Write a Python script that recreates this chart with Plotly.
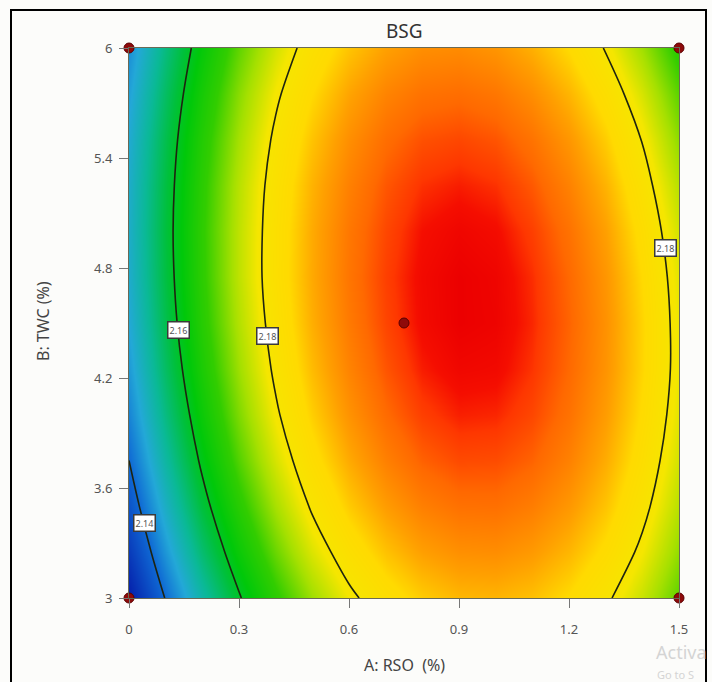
import plotly.graph_objects as go

# A: RSO (%) grid and B: TWC (%) grid
rso = [0.0, 0.1, 0.2, 0.3, 0.4, 0.5, 0.6, 0.7, 0.8, 0.9, 1.0, 1.1, 1.2, 1.3, 1.4, 1.5]
twc = [3.0, 3.25, 3.5, 3.75, 4.0, 4.25, 4.5, 4.75, 5.0, 5.25, 5.5, 5.75, 6.0]

# BSG response values (rows follow twc, columns follow rso)
bsg = [
    [2.1289, 2.1403, 2.1505, 2.1595, 2.1672, 2.1736, 2.1789, 2.1829, 2.1856, 2.1872, 2.1874, 2.1865, 2.1843, 2.1808, 2.1762, 2.1702],
    [2.1331, 2.1445, 2.1546, 2.1634, 2.1710, 2.1774, 2.1825, 2.1864, 2.1891, 2.1905, 2.1907, 2.1896, 2.1873, 2.1838, 2.1790, 2.1730],
    [2.1368, 2.1481, 2.1581, 2.1668, 2.1743, 2.1806, 2.1857, 2.1894, 2.1920, 2.1933, 2.1934, 2.1922, 2.1898, 2.1862, 2.1813, 2.1752],
    [2.1400, 2.1511, 2.1610, 2.1697, 2.1771, 2.1833, 2.1882, 2.1919, 2.1944, 2.1956, 2.1955, 2.1943, 2.1918, 2.1880, 2.1830, 2.1768],
    [2.1426, 2.1536, 2.1634, 2.1720, 2.1793, 2.1854, 2.1902, 2.1938, 2.1962, 2.1973, 2.1971, 2.1958, 2.1932, 2.1893, 2.1842, 2.1779],
    [2.1446, 2.1556, 2.1653, 2.1737, 2.1809, 2.1869, 2.1916, 2.1951, 2.1974, 2.1984, 2.1982, 2.1967, 2.1940, 2.1901, 2.1849, 2.1785],
    [2.1461, 2.1570, 2.1666, 2.1749, 2.1820, 2.1879, 2.1925, 2.1959, 2.1981, 2.1990, 2.1987, 2.1971, 2.1943, 2.1903, 2.1850, 2.1784],
    [2.1471, 2.1578, 2.1673, 2.1756, 2.1826, 2.1883, 2.1929, 2.1962, 2.1982, 2.1990, 2.1986, 2.1969, 2.1940, 2.1899, 2.1845, 2.1779],
    [2.1475, 2.1581, 2.1675, 2.1756, 2.1825, 2.1882, 2.1927, 2.1958, 2.1978, 2.1985, 2.1980, 2.1962, 2.1932, 2.1890, 2.1835, 2.1768],
    [2.1473, 2.1578, 2.1671, 2.1752, 2.1820, 2.1876, 2.1919, 2.1950, 2.1968, 2.1974, 2.1968, 2.1949, 2.1918, 2.1875, 2.1819, 2.1751],
    [2.1466, 2.1570, 2.1662, 2.1741, 2.1809, 2.1863, 2.1906, 2.1936, 2.1953, 2.1958, 2.1951, 2.1931, 2.1899, 2.1855, 2.1798, 2.1728],
    [2.1453, 2.1556, 2.1647, 2.1726, 2.1792, 2.1845, 2.1887, 2.1916, 2.1932, 2.1936, 2.1928, 2.1907, 2.1874, 2.1829, 2.1771, 2.1701],
    [2.1435, 2.1537, 2.1627, 2.1704, 2.1769, 2.1822, 2.1862, 2.1890, 2.1906, 2.1909, 2.1900, 2.1878, 2.1844, 2.1797, 2.1738, 2.1667],
]

# contour levels and their label positions (A, B)
levels = [2.14, 2.16, 2.18]
label_text = ["2.14", "2.16", "2.18", "2.18"]
label_a = [0.043, 0.134, 0.379, 1.463]
label_b = [3.41, 4.46, 4.43, 4.91]

# design points
pts_a = [0.0, 0.0, 1.5, 1.5, 0.75]
pts_b = [3.0, 6.0, 3.0, 6.0, 4.5]

x_ticks = [0, 0.3, 0.6, 0.9, 1.2, 1.5]
y_ticks = [3, 3.6, 4.2, 4.8, 5.4, 6]

zmin, zmax = 2.1289, 2.1990
stops = [
    (2.1289, "rgb(5,30,170)"),
    (2.1400, "rgb(15,105,212)"),
    (2.1460, "rgb(35,168,215)"),
    (2.1520, "rgb(10,185,150)"),
    (2.1580, "rgb(0,192,60)"),
    (2.1620, "rgb(0,200,10)"),
    (2.1680, "rgb(50,205,0)"),
    (2.1740, "rgb(165,224,0)"),
    (2.1790, "rgb(245,230,0)"),
    (2.1845, "rgb(255,218,0)"),
    (2.1890, "rgb(255,160,0)"),
    (2.1940, "rgb(255,105,0)"),
    (2.1966, "rgb(254,55,0)"),
    (2.1978, "rgb(245,14,0)"),
    (2.1990, "rgb(236,0,0)"),
]
colorscale = [[(v - zmin) / (zmax - zmin), c] for v, c in stops]

fig = go.Figure()
fig.add_trace(go.Contour(
    x=rso, y=twc, z=bsg,
    zmin=zmin, zmax=zmax, colorscale=colorscale,
    contours=dict(coloring="heatmap", start=levels[0], end=levels[-1], size=0.02, showlabels=False),
    line=dict(color="#1e2410", width=1.6, smoothing=1.0),
    showscale=False, hoverinfo="skip",
))
fig.add_trace(go.Scatter(
    x=pts_a, y=pts_b, mode="markers",
    marker=dict(size=10, color="#8e0a0a", line=dict(color="#5a0000", width=1)),
    cliponaxis=False, showlegend=False, hoverinfo="skip",
))

for t, a, b in zip(label_text, label_a, label_b):
    fig.add_annotation(x=a, y=b, text=t, showarrow=False,
                       font=dict(size=9, color="#555", family="Noto Sans"),
                       bgcolor="white", bordercolor="#3a3a3a", borderwidth=1.5, borderpad=1)

W, H = 712, 682
L, T, PW, PH = 129, 48, 550, 550

def px(x):
    return (x - L) / PW

def py(y):
    return (T + PH - y) / PH

fig.add_annotation(xref="paper", yref="paper", x=px(404), y=py(665), xanchor="center", yanchor="middle",
                   text="A: RSO  (%)", showarrow=False, font=dict(size=16, color="#444", family="Noto Sans"))
fig.add_annotation(xref="paper", yref="paper", x=px(43), y=py(321), xanchor="center", yanchor="middle",
                   text="B: TWC (%)", textangle=-90,
                   showarrow=False, font=dict(size=16, color="#444", family="Noto Sans"))
fig.add_annotation(xref="paper", yref="paper", x=px(404), y=py(31), xanchor="center", yanchor="middle",
                   text="BSG", showarrow=False, font=dict(size=19, color="#333", family="Noto Sans"))
fig.add_annotation(xref="paper", yref="paper", x=px(654), y=py(652), xanchor="left", yanchor="middle",
                   text="Activa", showarrow=False, font=dict(size=18, color="#d4d4d4", family="Noto Sans"))
fig.add_annotation(xref="paper", yref="paper", x=px(655), y=py(674), xanchor="left", yanchor="middle",
                   text="Go to S", showarrow=False, font=dict(size=11, color="#d4d4d4", family="Noto Sans"))

fig.add_shape(type="rect", xref="paper", yref="paper", x0=px(11), x1=px(706), y0=py(700), y1=py(10),
              line=dict(color="black", width=2), layer="above")

axis_common = dict(showgrid=False, zeroline=False, ticks="outside", ticklen=9, tickwidth=1,
                   tickcolor="#777", showline=True, linecolor="#6a6a55", linewidth=1, mirror=True,
                   tickfont=dict(size=13, color="#555", family="Noto Sans"))
fig.update_layout(
    width=W, height=H,
    margin=dict(l=L, r=W - L - PW, t=T, b=H - T - PH),
    paper_bgcolor="#fcfcfa", plot_bgcolor="white",
    showlegend=False,
    xaxis=dict(range=[0, 1.5], tickvals=x_ticks, ticktext=["0", "0.3", "0.6", "0.9", "1.2", "1.5"],
               ticklabelstandoff=10, **axis_common),
    yaxis=dict(range=[3, 6], tickvals=y_ticks, ticktext=["3", "3.6", "4.2", "4.8", "5.4", "6"],
               ticklabelstandoff=4, **axis_common),
)
fig.write_html("out.html")
